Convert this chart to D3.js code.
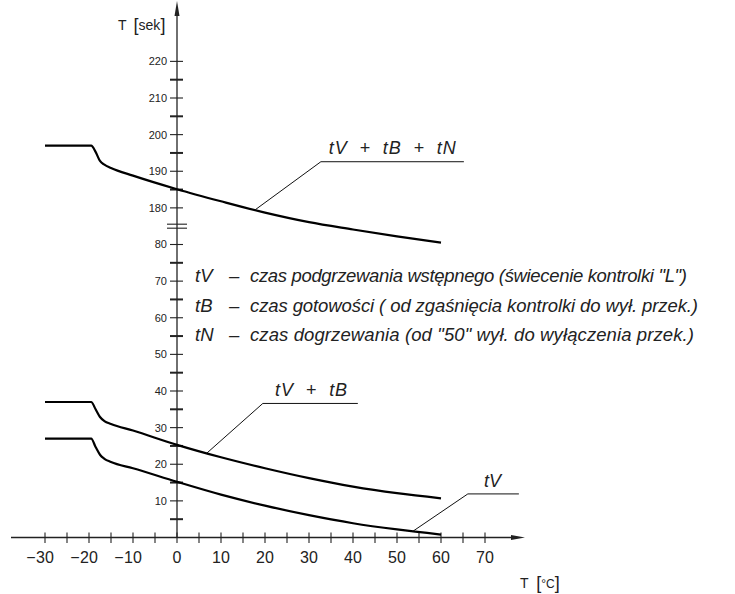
<!DOCTYPE html>
<html>
<head>
<meta charset="utf-8">
<script src="https://cdn.jsdelivr.net/npm/d3@7"></script>
<style>
  html, body { margin: 0; padding: 0; background: #fff; }
  svg { display: block; }
  text { font-family: "Liberation Sans", Arial, sans-serif; fill: #222; }
</style>
</head>
<body>
<svg id="chart" width="735" height="594"></svg>
<script>
// ---- data ----
const temps = [-30, -19.5, -18.5, -17.5, -16.5, -15, -10, 0, 10, 20, 30, 40, 50, 60];
const tVtBtN = [197, 197, 195.3, 192.8, 191.8, 190.9, 188.8, 185.1, 181.8, 178.7, 176.1, 174.1, 172.2, 170.5];
const tVtB   = [37, 37, 35.0, 32.9, 31.8, 31.0, 29.2, 25.3, 21.9, 18.9, 16.2, 13.9, 12.1, 10.7];
const tV     = [27, 27, 24.7, 22.6, 21.5, 20.6, 18.9, 15.2, 11.7, 8.7, 6.1, 3.9, 2.2, 0.8];

const xTickValues = d3.range(-30, 71, 5);
const xLabelValues = [-30, -20, -10, 0, 10, 20, 30, 40, 50, 60, 70];
const yLowerLabels = [10, 20, 30, 40, 50, 60, 70, 80];
const yLowerMinor = [5, 15, 25, 35, 45, 55, 65, 75];
const yUpperLabels = [180, 190, 200, 210, 220];
const yUpperMinor = [185, 195, 205, 215];

const legendKeys = ["tV", "tB", "tN"];
const legendTexts = [
  "czas podgrzewania wstępnego (świecenie kontrolki \"L\")",
  "czas gotowości ( od zgaśnięcia kontrolki do wył. przek.)",
  "czas dogrzewania (od \"50\" wył. do wyłączenia przek.)"
];

// annotations in data units: attach T, elbow (T, value), end T, label
const annotations = [
  {label: "tV + tB + tN", series: "top", at: 17.7, elbowT: 32.7, elbowV: 192.6, endT: 65.2, labelT: 34.5, labelV: 194.6, w: 127},
  {label: "tV + tB", series: "mid", at: 6.75, elbowT: 19.5, elbowV: 36.6, endT: 41.1, labelT: 22.3, labelV: 38.6, w: 72},
  {label: "tV", series: "low", at: 53.6, elbowT: 66.1, elbowV: 11.9, endT: 77.7, labelT: 69.8, labelV: 13.7, w: 0}
];

// ---- scales ----
const x = d3.scaleLinear().domain([-30, 70]).range([45, 485]);
const yBase = d3.scaleLinear().domain([0, 80]).range([537.5, 244.5]);
const yUpper = d3.scaleLinear().domain([180, 220]).range([yBase(90), yBase(130)]);

const svg = d3.select("#chart");
const axisColor = "#222";
const x0 = x(0), y0 = yBase(0);

// ---- x axis ----
svg.append("line").attr("x1", 11).attr("x2", 514).attr("y1", y0).attr("y2", y0)
  .attr("stroke", axisColor).attr("stroke-width", 1.3);
svg.append("path").attr("d", `M525,${y0} L511,${y0-2.6} L511,${y0+2.6} Z`).attr("fill", axisColor);
svg.selectAll(".xt").data(xTickValues).enter().append("line")
  .attr("x1", d => x(d)).attr("x2", d => x(d)).attr("y1", y0 - 5).attr("y2", y0 + 5.5)
  .attr("stroke", axisColor).attr("stroke-width", 1.1);
xLabelValues.forEach(v => {
  const t = svg.append("text").attr("x", x(v)).attr("y", 563).attr("text-anchor", "middle")
    .attr("font-size", 16).text(Math.abs(v));
  if (v < 0) {
    const w = t.node().getComputedTextLength();
    svg.append("text").attr("x", x(v) - w / 2 - 0.5).attr("y", 563).attr("text-anchor", "end")
      .attr("font-size", 16).text("−");
  }
});
// x label
const xl = svg.append("text").attr("x", 520).attr("y", 588).attr("font-size", 14);
xl.append("tspan").text("T ");
xl.append("tspan").attr("dx", 4).attr("font-size", 18).attr("dy", 1).text("[");
xl.append("tspan").attr("font-size", 12).attr("dy", -1).text("°C");
xl.append("tspan").attr("font-size", 18).attr("dy", 1).text("]");

// ---- y axis ----
svg.append("line").attr("x1", x0).attr("x2", x0).attr("y1", y0).attr("y2", 12)
  .attr("stroke", axisColor).attr("stroke-width", 1.3);
svg.append("path").attr("d", `M${x0},1 L${x0-2.5},16 L${x0+2.5},16 Z`).attr("fill", axisColor);

function yTicks(vals, scale, sw) {
  svg.append("g").selectAll("line").data(vals).enter().append("line")
    .attr("x1", x0 - 7).attr("x2", x0 + 6).attr("y1", d => scale(d)).attr("y2", d => scale(d))
    .attr("stroke", axisColor).attr("stroke-width", sw);
}
yTicks(yLowerLabels, yBase, 1.1);
yTicks(yLowerMinor, yBase, 2);
yTicks(yUpperLabels, yUpper, 1.1);
yTicks(yUpperMinor, yUpper, 2);
function yLabels(vals, scale) {
  svg.append("g").selectAll("text").data(vals).enter().append("text")
    .attr("x", x0 - 10).attr("y", d => scale(d)).attr("dy", "0.36em")
    .attr("text-anchor", "end").attr("font-size", 11).text(d => d);
}
yLabels(yLowerLabels, yBase);
yLabels(yUpperLabels, yUpper);
// axis break
[-2, 2].forEach(o => {
  svg.append("line").attr("x1", x0 - 10).attr("x2", x0 + 10)
    .attr("y1", yBase(85) + o).attr("y2", yBase(85) + o)
    .attr("stroke", axisColor).attr("stroke-width", 1.1);
});
// y label
const yl = svg.append("text").attr("x", 118).attr("y", 30).attr("font-size", 14);
yl.append("tspan").text("T");
yl.append("tspan").attr("dx", 7).attr("font-size", 18).attr("dy", 1).text("[");
yl.append("tspan").attr("dy", -1).text("sek");
yl.append("tspan").attr("font-size", 18).attr("dy", 1).text("]");

// ---- curves ----
const seriesDefs = {
  top: {vals: tVtBtN, scale: yUpper},
  mid: {vals: tVtB, scale: yBase},
  low: {vals: tV, scale: yBase}
};
Object.values(seriesDefs).forEach(s => {
  const line = d3.line().x(d => x(d[0])).y(d => s.scale(d[1])).curve(d3.curveMonotoneX);
  svg.append("path").datum(temps.map((t, i) => [t, s.vals[i]]))
    .attr("d", line).attr("fill", "none").attr("stroke", "#000").attr("stroke-width", 2.2)
    .attr("stroke-linejoin", "round");
});

// ---- annotations ----
annotations.forEach(a => {
  const s = seriesDefs[a.series];
  const interp = d3.scaleLinear().domain(temps).range(s.vals);
  const p0 = [x(a.at), s.scale(interp(a.at))];
  const p1 = [x(a.elbowT), s.scale(a.elbowV)];
  const p2 = [x(a.endT), s.scale(a.elbowV)];
  svg.append("path").attr("d", `M${p0} L${p1} L${p2}`).attr("fill", "none")
    .attr("stroke", "#111").attr("stroke-width", 1);
  const t = svg.append("text").attr("x", x(a.labelT)).attr("y", s.scale(a.labelV))
    .attr("font-size", 18).attr("font-style", "italic")
    .attr("xml:space", "preserve").text(a.label.replace(/ \+ /g, "  +  "));
  if (a.w) t.attr("textLength", a.w).attr("lengthAdjust", "spacing");
});

// ---- legend text ----
const legendEnd = [687, 698, 694];
const legendY = [281.7, 311.7, 340.7];
legendKeys.forEach((k, i) => {
  svg.append("text").attr("x", 195).attr("y", legendY[i])
    .attr("font-size", 18.5).attr("font-style", "italic").text(k);
  svg.append("text").attr("x", 229).attr("y", legendY[i])
    .attr("font-size", 18.5).attr("font-style", "italic").text("–");
  svg.append("text").attr("x", 250).attr("y", legendY[i])
    .attr("font-size", 18.5).attr("font-style", "italic")
    .attr("textLength", legendEnd[i] - 250).attr("lengthAdjust", "spacing")
    .text(legendTexts[i]);
});
</script>
</body>
</html>
